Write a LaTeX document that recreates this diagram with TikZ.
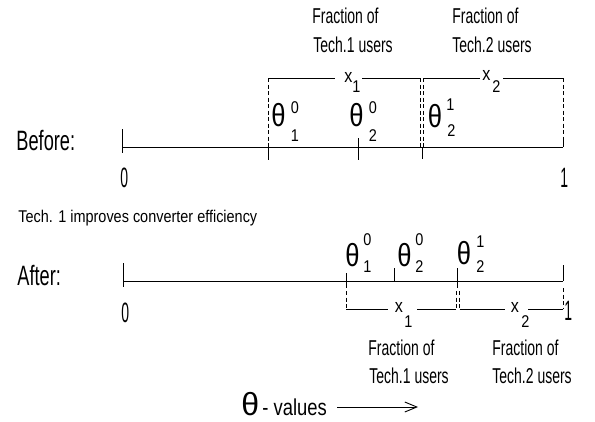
\documentclass[tikz,border=0pt]{standalone}
\usepackage{fontspec}
\setmainfont{Liberation Sans}
\newfontfamily\condA[FakeStretch=0.65]{Liberation Sans}
\newfontfamily\condB[FakeStretch=0.85]{Liberation Sans}
\newfontfamily\condC[FakeStretch=0.8]{Liberation Sans}
\newfontfamily\condN[FakeStretch=0.5]{Liberation Sans}
\usetikzlibrary{arrows.meta}
\begin{document}
\begin{tikzpicture}[x=1pt,y=-1pt,line width=0.9pt,
  txt/.style={inner sep=0pt,anchor=base west},
  big/.style={txt,font=\condA\fontsize{28}{28}\selectfont},
  frac/.style={txt,font=\condA\fontsize{21.5}{21.5}\selectfont},
  small/.style={txt,font=\condB\fontsize{17}{17}\selectfont},
  th/.style={txt,font=\condC\fontsize{32}{32}\selectfont},
  scr/.style={txt,font=\condB\fontsize{17}{17}\selectfont},
  digit/.style={txt,font=\condN\fontsize{28}{28}\selectfont},
  xl/.style={inner sep=0pt,anchor=center,font=\condB\fontsize{19}{19}\selectfont},
  dsh/.style={dash pattern=on 4pt off 2.5pt}]
\useasboundingbox (0,0) rectangle (595,421);

% ---------- Before ----------
\node[big] (before) at (16,150) {Before:};
\draw (122,129) -- (122,153);
\draw (122,147) -- (563,147);
\draw (268,147) -- (268,160);
\draw[dsh] (268,78) -- (268,147);
\draw (358,138) -- (358,160);
\draw (422,147) -- (422,159);
\draw[dsh] (420,78) -- (420,147);
\draw[dsh] (423.5,78) -- (423.5,147);
\draw[dsh] (563,78) -- (563,137);
\draw (563,137) -- (563,147);
% brackets
\draw (268,78) -- (335,78) (362,78) -- (420,78);
\draw (423.5,78) -- (480,78) (503,78) -- (563,78);
\node[xl] (bx1) at (348.5,77) {x};
\node[scr] (bx1s) at (352,92) {1};
\node[xl] (bx2) at (486.5,75) {x};
\node[scr] (bx2s) at (492,92) {2};
% thetas
\node[th] (bt1) at (271,126.5) {θ};
\node[scr] (bt1u) at (290.5,113) {0};
\node[scr] (bt1d) at (290.5,141.5) {1};
\node[th] (bt2) at (349,126.5) {θ};
\node[scr] (bt2u) at (368.5,113) {0};
\node[scr] (bt2d) at (368.5,141.5) {2};
\node[th] (bt3) at (427.5,127.5) {θ};
\node[scr] (bt3u) at (446,110) {1};
\node[scr] (bt3d) at (447,136) {2};
% numbers
\node[digit] (b0) at (120,187) {0};
\node[digit] (b1) at (560,187) {1};
% fractions
\node[frac] (bf1a) at (312,23) {Fraction of};
\node[frac] (bf1b) at (313,52) {Tech.1 users};
\node[frac] (bf2a) at (452,23) {Fraction of};
\node[frac] (bf2b) at (452,52) {Tech.2 users};

% ---------- After ----------
\node[small] (note) at (18,222) {Tech. 1 improves converter efficiency};
\node[big] (after) at (17,285) {After:};
\draw (123,263) -- (123,287);
\draw (123,281) -- (563,281);
\draw (346,273) -- (346,288);
\draw[dsh] (346,291) -- (346,309);
\draw (394,268) -- (394,281);
\draw (457,268) -- (457,288);
\draw[dsh] (456,291) -- (456,309);
\draw[dsh] (459.5,291) -- (459.5,309);
\draw (563,265) -- (563,281);
\draw[dsh] (563,288) -- (563,309);
% brackets
\draw (346,309) -- (388,309) (417,309) -- (456,309);
\draw (459.5,309) -- (505,309) (528,309) -- (563,309);
\node[xl] (ax1) at (399,307.5) {x};
\node[scr] (ax1s) at (404,327) {1};
\node[xl] (ax2) at (515,307.5) {x};
\node[scr] (ax2s) at (521,327) {2};
% thetas
\node[th] (at1) at (345,266.5) {θ};
\node[scr] (at1u) at (363,245) {0};
\node[scr] (at1d) at (363,272.5) {1};
\node[th] (at2) at (397,266.5) {θ};
\node[scr] (at2u) at (415,245) {0};
\node[scr] (at2d) at (415,272.5) {2};
\node[th] (at3) at (456.5,264) {θ};
\node[scr] (at3u) at (476,247) {1};
\node[scr] (at3d) at (476,272.5) {2};
% numbers
\node[digit] (a0) at (121,322) {0};
\node[digit] (a1) at (564,320) {1};
% fractions
\node[frac] (af1a) at (368,355) {Fraction of};
\node[frac] (af1b) at (369,383) {Tech.1 users};
\node[frac] (af2a) at (492,355) {Fraction of};
\node[frac] (af2b) at (492,383) {Tech.2 users};

% ---------- theta values ----------
\node[txt,font=\fontsize{32}{32}\selectfont] (thv) at (241,415) {θ};
\node[txt,font=\condC\fontsize{23}{23}\selectfont] (vals) at (262,415) {- values};
\coordinate (arrS) at (337,407);
\coordinate (arrE) at (418,407);
\draw[-{Straight Barb[length=12pt,width=10pt]}] (arrS) -- (arrE);
\end{tikzpicture}
\end{document}
